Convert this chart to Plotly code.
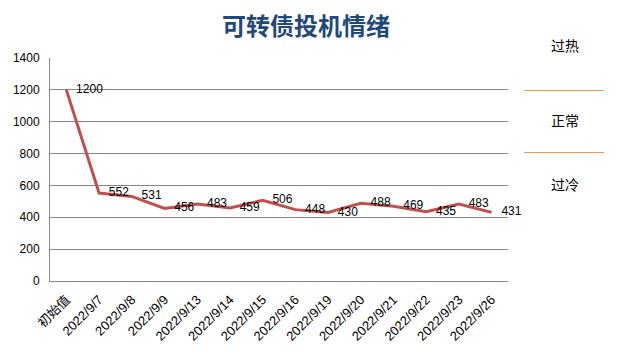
import plotly.graph_objects as go

categories = ["初始值", "2022/9/7", "2022/9/8", "2022/9/9", "2022/9/13", "2022/9/14",
              "2022/9/15", "2022/9/16", "2022/9/19", "2022/9/20", "2022/9/21",
              "2022/9/22", "2022/9/23", "2022/9/26"]
values = [1200, 552, 531, 456, 483, 459, 506, 448, 430, 488, 469, 435, 483, 431]
y_ticks = [0, 200, 400, 600, 800, 1000, 1200, 1400]
zone_labels = ["过热", "正常", "过冷"]
title_text = "可转债投机情绪"

fig = go.Figure()
fig.add_trace(go.Scatter(
    x=categories, y=values, mode="lines+markers+text",
    text=[str(v) for v in values], textposition="middle right",
    textfont=dict(size=12, color="#000000", family="Liberation Sans, Arial"),
    line=dict(color="#C0504D", width=3),
    marker=dict(size=14, color="rgba(0,0,0,0)"),
    cliponaxis=False, showlegend=False, hoverinfo="x+y",
))

# page body has an 8px margin: shift the layout up-left by 8px
off = 8
L, R, T, B = 50 - off, 128 + off, 58 - off, 79 + off

grid = "#868686"
fig.update_layout(
    width=636, height=360,
    margin=dict(l=L, r=R, t=T, b=B, autoexpand=False),
    paper_bgcolor="white", plot_bgcolor="white",
    font=dict(family="Liberation Sans, Noto Sans CJK SC, Arial", size=12, color="#000000"),
    xaxis=dict(type="category", range=[-0.5, len(categories) - 0.5], automargin=False,
               tickangle=-45, showgrid=False, showline=True, linecolor=grid,
               linewidth=1, ticks="", ticklabelstandoff=5,
               tickfont=dict(size=13, color="#000000",
                             family="Liberation Sans, Noto Sans CJK SC")),
    yaxis=dict(range=[0, 1400], tickvals=y_ticks, showgrid=True, gridcolor=grid,
               gridwidth=1, showline=True, linecolor=grid, linewidth=1, ticks="",
               zeroline=False, mirror=False, automargin=False, ticklabelstandoff=7,
               tickfont=dict(size=12, color="#000000", family="Liberation Sans")),
)

pw, ph = 458, 223
def px(x):
    return (x - 50) / pw
def py(y):
    return (281 - y) / ph

fig.add_annotation(text="<b>" + title_text + "</b>", xref="paper", yref="paper",
                   x=px(306), y=py(24), showarrow=False, xanchor="center", yanchor="middle",
                   font=dict(size=24, color="#1F497D", family="Noto Sans CJK SC"))

for label, yy in zip(zone_labels, [45, 120, 184]):
    fig.add_annotation(text=label, xref="paper", yref="paper", x=px(565), y=py(yy),
                       showarrow=False, xanchor="center", yanchor="middle",
                       font=dict(size=14, color="#000000", family="Noto Sans CJK SC"))
for yy in [90.5, 152.5]:
    fig.add_shape(type="line", xref="paper", yref="paper",
                  x0=px(524), x1=px(604), y0=py(yy), y1=py(yy),
                  line=dict(color="#F79646", width=1))

fig.write_html("out.html")
